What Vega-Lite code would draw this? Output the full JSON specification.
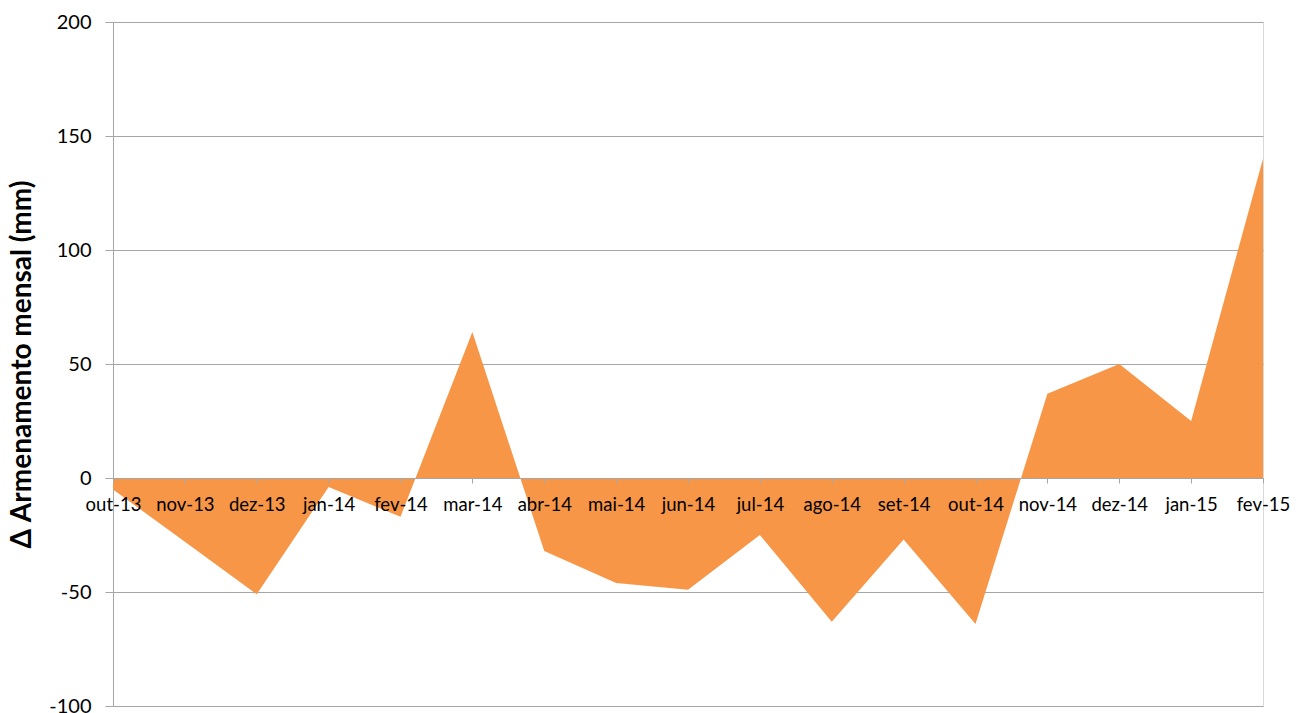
{
  "$schema": "https://vega.github.io/schema/vega-lite/v6.json",
  "width": 1150,
  "height": 684,
  "autosize": {"type": "none"},
  "padding": {"left": 113, "top": 22, "right": 43, "bottom": 7},
  "background": "white",
  "config": {
    "view": {"stroke": "#d9d9d9", "strokeWidth": 1},
    "font": "Lato"
  },
  "data": {
    "values": [
      {"mes": "out-13", "valor": -5},
      {"mes": "nov-13", "valor": -28},
      {"mes": "dez-13", "valor": -51},
      {"mes": "jan-14", "valor": -4},
      {"mes": "fev-14", "valor": -17},
      {"mes": "mar-14", "valor": 64},
      {"mes": "abr-14", "valor": -32},
      {"mes": "mai-14", "valor": -46},
      {"mes": "jun-14", "valor": -49},
      {"mes": "jul-14", "valor": -25},
      {"mes": "ago-14", "valor": -63},
      {"mes": "set-14", "valor": -27},
      {"mes": "out-14", "valor": -64},
      {"mes": "nov-14", "valor": 37},
      {"mes": "dez-14", "valor": 50},
      {"mes": "jan-15", "valor": 25},
      {"mes": "fev-15", "valor": 140}
    ]
  },
  "mark": {"type": "area", "color": "#F79646", "opacity": 1, "interpolate": "linear"},
  "encoding": {
    "x": {
      "field": "mes",
      "type": "ordinal",
      "sort": null,
      "scale": {"type": "point", "padding": 0},
      "axis": {
        "title": null,
        "orient": "bottom",
        "offset": -228,
        "labelAngle": 0,
        "labelFont": "Lato",
        "labelFontSize": 18.5,
        "labelColor": "#000000",
        "labelPadding": 12,
        "tickSize": 5,
        "tickColor": "#a6a6a6",
        "domainColor": "#a6a6a6",
        "domainWidth": 1,
        "grid": false,
        "zindex": 1
      }
    },
    "y": {
      "field": "valor",
      "type": "quantitative",
      "scale": {"domain": [-100, 200], "nice": false, "zero": false},
      "axis": {
        "title": "Δ Armenamento mensal (mm)",
        "titleFont": "Lato",
        "titleFontSize": 28,
        "titleFontWeight": "bold",
        "titleColor": "#000000",
        "titlePadding": 12,
        "values": [-100, -50, 0, 50, 100, 150, 200],
        "labelExpr": "replace(datum.label, '−', '-')",
        "labelFont": "Lato",
        "labelFontSize": 20,
        "labelColor": "#000000",
        "labelPadding": 14,
        "tickSize": 8,
        "tickColor": "#a6a6a6",
        "domainColor": "#a6a6a6",
        "grid": true,
        "gridColor": "#a6a6a6",
        "gridWidth": 1
      }
    },
    "y2": {"datum": 0}
  }
}
